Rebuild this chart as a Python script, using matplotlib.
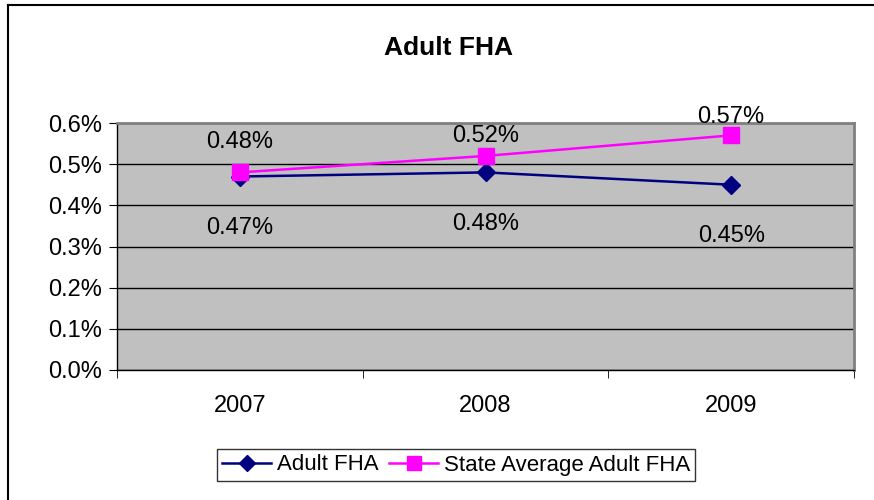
import matplotlib.pyplot as plt
from matplotlib.lines import Line2D

# chart values
years = ['2007', '2008', '2009']
adult_fha = [0.47, 0.48, 0.45]
state_avg = [0.48, 0.52, 0.57]
y_ticks = [0.0, 0.1, 0.2, 0.3, 0.4, 0.5, 0.6]

plt.rcParams['font.family'] = ['Liberation Sans', 'DejaVu Sans']

fig = plt.figure(figsize=(8.74, 5.0), dpi=100)
ax = fig.add_axes([117 / 874, 1 - 370 / 500, 737 / 874, 247 / 500])
ax.set_facecolor('#C0C0C0')

x = list(range(len(years)))
ax.plot(x, adult_fha, color='#000080', lw=1.8, marker='D', markersize=9,
        label='Adult FHA', zorder=3)
ax.plot(x, state_avg, color='#FF00FF', lw=1.8, marker='s', markersize=11,
        label='State Average Adult FHA', zorder=4)

# data labels
for i, v in enumerate(adult_fha):
    ax.annotate(f'{v:.2f}%', (i, v), xytext=(0, -37), textcoords='offset points',
                ha='center', va='center', fontsize=17)
state_offsets = [22, 14, 13]
for i, v in enumerate(state_avg):
    ax.annotate(f'{v:.2f}%', (i, v), xytext=(0, state_offsets[i]), textcoords='offset points',
                ha='center', va='center', fontsize=17)

ax.set_xlim(-0.5, len(years) - 0.5)
ax.set_ylim(0, 0.6)
ax.set_yticks(y_ticks)
ax.set_yticklabels([f'{t:.1f}%' for t in y_ticks], fontsize=17)
ax.yaxis.grid(True, color='black', lw=1)
ax.set_axisbelow(True)

ax.set_xticks(x)
ax.set_xticklabels(years, fontsize=17)
ax.set_xticks([i - 0.5 for i in range(len(years) + 1)], minor=True)
ax.tick_params(axis='x', which='major', length=0, pad=18)
ax.tick_params(axis='x', which='minor', length=6, direction='out', color='black')
ax.tick_params(axis='y', length=6, direction='out', color='black', pad=5)

for side in ['top', 'right']:
    ax.spines[side].set_color('#808080')
    ax.spines[side].set_linewidth(2)
for side in ['left', 'bottom']:
    ax.spines[side].set_color('black')
    ax.spines[side].set_linewidth(1)

fig.text(448 / 874, 1 - 48 / 500, 'Adult FHA', ha='center', va='center',
         fontsize=19, fontweight='bold')

leg = fig.legend(loc='center', bbox_to_anchor=(456 / 874, 1 - 465 / 500), ncol=2,
                 fontsize=16, frameon=True, fancybox=False, edgecolor='black',
                 handlelength=2.2, handletextpad=0.25, columnspacing=0.5,
                 borderpad=0.25, borderaxespad=0, markerscale=0.9)
leg.get_frame().set_linewidth(1)

# outer chart border (only left and top visible in the picture)
fig.add_artist(Line2D([8 / 874, 8 / 874], [0, 1 - 5 / 500], color='black', lw=1.5,
                      transform=fig.transFigure))
fig.add_artist(Line2D([8 / 874, 1], [1 - 5 / 500, 1 - 5 / 500], color='black', lw=1.5,
                      transform=fig.transFigure))

fig.savefig('out.png', dpi=100)
